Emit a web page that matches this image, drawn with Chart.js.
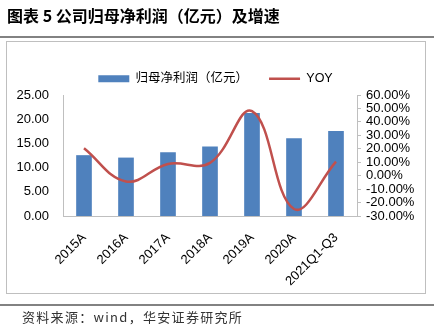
<!DOCTYPE html>
<html>
<head>
<meta charset="utf-8">
<script src="https://cdn.jsdelivr.net/npm/chart.js@4.4.1/dist/chart.umd.min.js"></script>
<style>
  html, body { margin: 0; padding: 0; background: #fff; }
</style>
</head>
<body>
<canvas id="chart" width="434" height="334"></canvas>
<script>
const categories = ["2015A", "2016A", "2017A", "2018A", "2019A", "2020A", "2021Q1-Q3"]
const profit = [12.5, 12.0, 13.1, 14.3, 21.2, 16.0, 17.5]
const yoy = [20.4, -4.3, 8.7, 9.5, 48.0, -24.8, 10.4]

const profitLabel = "归母净利润（亿元）"
const yoyLabel = "YOY"
const titleText = "图表 5 公司归母净利润（亿元）及增速"
const sourceText = "资料来源：wind，华安证券研究所"

const BLUE = "#4F81BD"
const RED = "#C0504D"
const AXIS = "#BFBFBF"
const FONT = '"Liberation Sans", Arial, "Noto Sans CJK SC", sans-serif'

Chart.defaults.font.family = FONT
Chart.defaults.color = "#000"

// title, rules, frame and source note around the plot
const decorations = {
  id: "decorations",
  beforeDraw(chart) {
    const { ctx } = chart
    ctx.save()
    ctx.fillStyle = "#fff"
    ctx.fillRect(0, 0, chart.width, chart.height)

    ctx.strokeStyle = AXIS
    ctx.lineWidth = 1
    ctx.strokeRect(6.5, 41.5, 419, 252)

    ctx.strokeStyle = "#595959"
    ctx.lineWidth = 1.5
    ctx.beginPath()
    ctx.moveTo(0, 37)
    ctx.lineTo(434, 37)
    ctx.moveTo(0, 305)
    ctx.lineTo(434, 305)
    ctx.stroke()

    ctx.fillStyle = "#000"
    ctx.textBaseline = "middle"
    ctx.font = 'bold 16px "Noto Sans CJK SC", sans-serif'
    ctx.fillText(titleText, 7, 16)

    ctx.fillStyle = "#333"
    ctx.font = '13px "Noto Sans CJK SC", sans-serif'
    ctx.letterSpacing = "1.3px"
    ctx.fillText(sourceText, 22, 317)
    ctx.restore()
  },
}

new Chart(document.getElementById("chart"), {
  type: "bar",
  data: {
    labels: categories,
    datasets: [
      {
        label: profitLabel,
        data: profit,
        backgroundColor: BLUE,
        barThickness: 15,
        yAxisID: "y",
        order: 1,
      },
      {
        type: "line",
        label: yoyLabel,
        data: yoy,
        borderColor: RED,
        backgroundColor: RED,
        borderWidth: 2.5,
        pointRadius: 0,
        tension: 0.4,
        yAxisID: "y1",
        order: 0,
      },
    ],
  },
  options: {
    responsive: false,
    animation: false,
    devicePixelRatio: 1,
    layout: { padding: { left: 6, right: 9, top: 37, bottom: 42 } },
    plugins: {
      tooltip: { enabled: false },
      legend: {
        position: "top",
        labels: {
          usePointStyle: true,
          pointStyleWidth: 31,
          boxWidth: 31,
          boxHeight: 7,
          padding: 21,
          color: "#000",
          font: { size: 12.5 },
          sort: (a, b) => a.datasetIndex - b.datasetIndex,
          generateLabels: (chart) => {
            const items = Chart.defaults.plugins.legend.labels.generateLabels(chart)
            items.forEach((item) => {
              if (item.datasetIndex === 0) {
                item.pointStyle = "rect"
                item.fillStyle = BLUE
                item.lineWidth = 0
              } else {
                item.pointStyle = "line"
                item.strokeStyle = RED
                item.lineWidth = 2.5
              }
            })
            return items
          },
        },
      },
    },
    scales: {
      x: {
        grid: { display: false, drawTicks: false },
        border: { display: true, color: AXIS },
        ticks: {
          minRotation: 45,
          maxRotation: 45,
          autoSkip: false,
          padding: 14,
          font: { size: 13 },
        },
        afterFit: (scale) => {
          scale.height = 76
        },
      },
      y: {
        position: "left",
        min: 0,
        max: 25,
        grid: { display: false, drawTicks: false },
        border: { display: true, color: AXIS },
        ticks: {
          stepSize: 5,
          autoSkip: false,
          padding: 14,
          font: { size: 13 },
          callback: (value) => value.toFixed(2),
        },
        afterFit: (scale) => {
          scale.width = 57
          // push the plot top down to leave the gap under the legend
          scale.paddingTop = 95
        },
      },
      y1: {
        position: "right",
        min: -30,
        max: 60,
        grid: { drawOnChartArea: false, drawTicks: true, tickLength: 4, color: AXIS },
        border: { display: true, color: AXIS },
        ticks: {
          stepSize: 10,
          autoSkip: false,
          padding: 5,
          font: { size: 13 },
          callback: (value) => value.toFixed(2) + "%",
        },
        afterFit: (scale) => {
          scale.width = 68
        },
      },
    },
  },
  plugins: [decorations],
})
</script>
</body>
</html>
